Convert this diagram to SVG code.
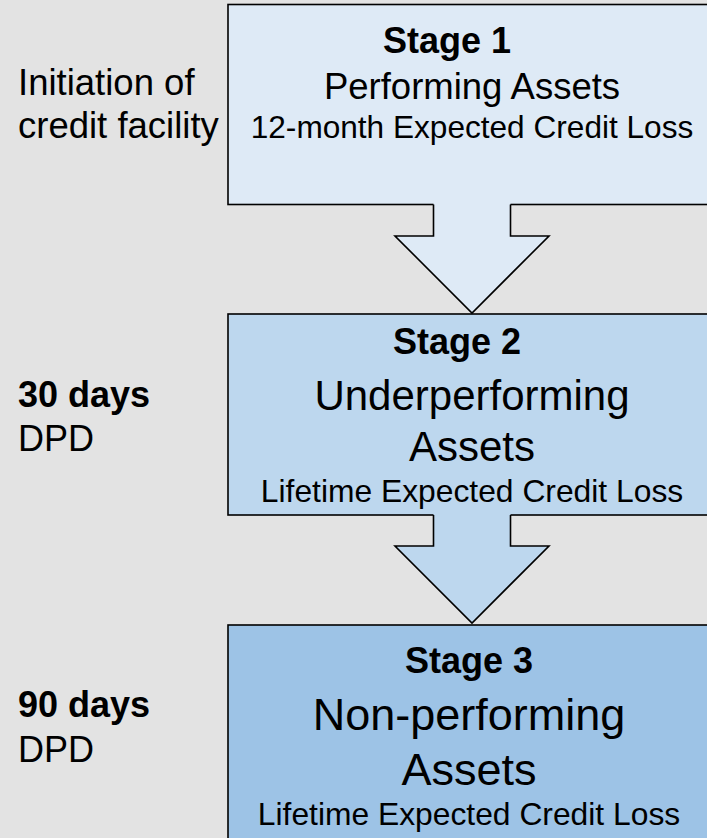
<svg xmlns="http://www.w3.org/2000/svg" width="707" height="838" viewBox="0 0 707 838">
  <style>
    text { font-family: "Liberation Sans", Arial, sans-serif; fill: #000; }
    .c { text-anchor: middle; }
    .b { font-weight: bold; }
    .box { stroke: #000; stroke-width: 1.6; }
    .edge { fill: none; stroke: #000; stroke-width: 1.6; stroke-linejoin: miter; }
    .s1 { fill: #deeaf6; }
    .s2 { fill: #bdd7ee; }
    .s3 { fill: #9dc3e6; }
  </style>

  <!-- background -->
  <rect x="0" y="0" width="707" height="838" fill="#e3e3e3"/>

  <!-- side labels -->
  <g id="label-initiation">
    <text x="18" y="95" font-size="36.5">Initiation of</text>
    <text x="18" y="138" font-size="36.5">credit facility</text>
  </g>
  <g id="label-30dpd">
    <text x="18" y="407" font-size="36" class="b">30 days</text>
    <text x="18" y="451" font-size="36">DPD</text>
  </g>
  <g id="label-90dpd">
    <text x="18" y="717" font-size="36" class="b">90 days</text>
    <text x="18" y="762" font-size="36">DPD</text>
  </g>

  <!-- stage boxes -->
  <g id="stage1">
    <rect class="box s1" x="228" y="4.5" width="500" height="200"/>
    <text x="447" y="53" font-size="36" class="b c">Stage 1</text>
    <text x="472" y="99" font-size="36.5" class="c">Performing Assets</text>
    <text x="472" y="138" font-size="31.6" class="c">12-month Expected Credit Loss</text>
  </g>

  <g id="stage2">
    <rect class="box s2" x="228" y="314" width="500" height="201"/>
    <text x="457" y="354" font-size="36" class="b c">Stage 2</text>
    <text x="472" y="410" font-size="42" class="c">Underperforming</text>
    <text x="472" y="461" font-size="42" class="c">Assets</text>
    <text x="472" y="502" font-size="31.8" class="c">Lifetime Expected Credit Loss</text>
  </g>

  <g id="stage3">
    <rect class="box s3" x="228" y="625" width="500" height="240"/>
    <text x="469" y="673" font-size="36" class="b c">Stage 3</text>
    <text x="469" y="730" font-size="45" class="c">Non-performing</text>
    <text x="469" y="785" font-size="45" class="c">Assets</text>
    <text x="469" y="825" font-size="31.8" class="c">Lifetime Expected Credit Loss</text>
  </g>

  <!-- block arrows between stages -->
  <g id="connectors">
    <g id="arrow-1-2">
      <polygon class="s1" points="433.5,202 433.5,236 395,236 472,313 549,236 510.5,236 510.5,202"/>
      <polyline class="edge" points="433.5,204.5 433.5,236 395,236 472,313 549,236 510.5,236 510.5,204.5"/>
    </g>
    <g id="arrow-2-3">
      <polygon class="s2" points="433.5,513 433.5,546 395,546 472,623 549,546 510.5,546 510.5,513"/>
      <polyline class="edge" points="433.5,515 433.5,546 395,546 472,623 549,546 510.5,546 510.5,515"/>
    </g>
  </g>
</svg>
